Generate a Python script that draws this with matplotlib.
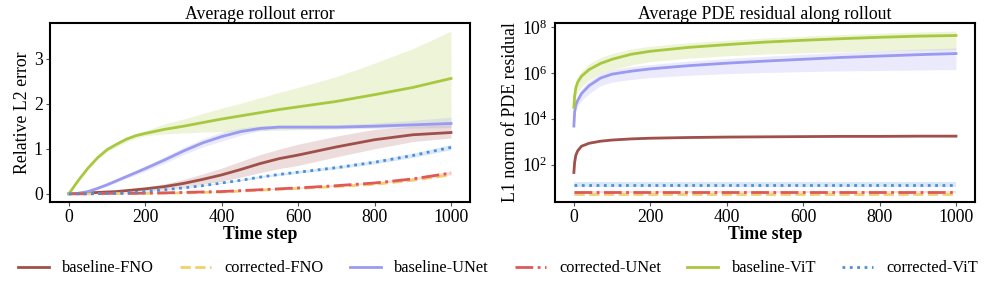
import matplotlib
matplotlib.use("Agg")
import matplotlib.pyplot as plt
import numpy as np

plt.rcParams["font.family"] = ["Liberation Serif", "DejaVu Serif"]

# ---- left panel: relative L2 error (mean, lower, upper) ----
T_ERR = [0, 25, 50, 75, 100, 125, 150, 175, 200, 250, 300, 350, 400, 450, 500,
         550, 600, 700, 800, 900, 1000]

vit_err = [0, 0.3, 0.57, 0.8, 0.98, 1.1, 1.21, 1.29, 1.34, 1.43, 1.5, 1.58, 1.66,
           1.73, 1.8, 1.87, 1.93, 2.05, 2.2, 2.36, 2.56]
vit_lo = [0, 0.29, 0.55, 0.77, 0.94, 1.05, 1.15, 1.23, 1.29, 1.33, 1.35, 1.37, 1.38,
          1.39, 1.4, 1.41, 1.42, 1.44, 1.47, 1.5, 1.52]
vit_hi = [0, 0.31, 0.59, 0.83, 1.02, 1.15, 1.26, 1.34, 1.4, 1.55, 1.66, 1.78, 1.9,
          2.01, 2.13, 2.25, 2.36, 2.6, 2.9, 3.22, 3.61]

unet_err = [0, 0.01, 0.05, 0.12, 0.2, 0.29, 0.38, 0.47, 0.56, 0.75, 0.95, 1.13, 1.27,
            1.38, 1.45, 1.48, 1.48, 1.48, 1.5, 1.53, 1.56]
unet_lo = [0, 0.01, 0.04, 0.1, 0.17, 0.25, 0.34, 0.42, 0.5, 0.68, 0.87, 1.04, 1.17,
           1.3, 1.4, 1.44, 1.44, 1.44, 1.45, 1.46, 1.47]
unet_hi = [0, 0.01, 0.06, 0.14, 0.23, 0.33, 0.42, 0.52, 0.62, 0.82, 1.03, 1.22, 1.37,
           1.46, 1.51, 1.52, 1.52, 1.53, 1.57, 1.63, 1.7]

fno_err = [0, 0.01, 0.02, 0.03, 0.04, 0.05, 0.07, 0.09, 0.11, 0.16, 0.23, 0.32, 0.42,
           0.54, 0.67, 0.78, 0.86, 1.04, 1.2, 1.31, 1.36]
fno_lo = [0, 0.01, 0.01, 0.02, 0.03, 0.04, 0.05, 0.06, 0.07, 0.1, 0.15, 0.21, 0.28,
          0.37, 0.47, 0.56, 0.63, 0.82, 1.0, 1.16, 1.24]
fno_hi = [0, 0.01, 0.03, 0.04, 0.05, 0.07, 0.09, 0.12, 0.15, 0.22, 0.32, 0.44, 0.57,
          0.72, 0.87, 0.99, 1.1, 1.28, 1.43, 1.5, 1.53]

cvit_err = [0, 0, 0, 0.005, 0.01, 0.015, 0.02, 0.03, 0.05, 0.09, 0.13, 0.18, 0.24,
            0.3, 0.37, 0.43, 0.48, 0.58, 0.7, 0.85, 1.03]
cunet_err = [0, 0, 0, 0.005, 0.01, 0.01, 0.01, 0.01, 0.015, 0.02, 0.03, 0.04, 0.05,
             0.07, 0.09, 0.11, 0.13, 0.18, 0.24, 0.33, 0.46]
cfno_err = [0, 0, 0, 0, 0.005, 0.005, 0.01, 0.01, 0.01, 0.015, 0.02, 0.03, 0.04,
            0.06, 0.08, 0.1, 0.12, 0.16, 0.21, 0.3, 0.42]

# ---- right panel: L1 norm of PDE residual (log10 of mean, lower, upper) ----
T_RES = [0, 2, 5, 10, 20, 40, 70, 100, 150, 200, 300, 400, 500, 600, 700, 800, 900, 1000]

vit_res = [4.5, 5.0, 5.35, 5.6, 5.86, 6.15, 6.42, 6.6, 6.82, 6.95, 7.12, 7.24, 7.35,
           7.43, 7.5, 7.56, 7.61, 7.64]
vit_res_lo = [4.3, 4.7, 5.0, 5.2, 5.4, 5.7, 5.98, 6.15, 6.35, 6.5, 6.65, 6.75, 6.83,
              6.88, 6.93, 6.97, 7.0, 7.02]
vit_res_hi = [4.7, 5.25, 5.6, 5.85, 6.1, 6.4, 6.68, 6.85, 7.05, 7.17, 7.32, 7.43,
              7.53, 7.61, 7.68, 7.74, 7.79, 7.83]

unet_res = [3.68, 4.3, 4.6, 4.8, 5.1, 5.45, 5.78, 5.95, 6.08, 6.18, 6.32, 6.43, 6.52,
            6.6, 6.68, 6.74, 6.8, 6.85]
unet_res_lo = [3.6, 4.1, 4.35, 4.55, 4.8, 5.1, 5.45, 5.6, 5.72, 5.8, 5.9, 5.97, 6.02,
               6.06, 6.09, 6.11, 6.13, 6.15]
unet_res_hi = [3.75, 4.45, 4.78, 5.0, 5.3, 5.65, 5.98, 6.15, 6.28, 6.37, 6.52, 6.63,
               6.73, 6.82, 6.9, 6.97, 7.04, 7.1]

fno_res = [1.65, 2.1, 2.4, 2.6, 2.8, 2.93, 3.02, 3.07, 3.12, 3.15, 3.18, 3.2, 3.21,
           3.22, 3.23, 3.23, 3.24, 3.24]

cvit_res = [1.12] * len(T_RES)
cunet_res = [0.8] * len(T_RES)
cfno_res = [0.72] * len(T_RES)

C_FNO, C_CFNO = "#a0504b", "#f0d070"
C_UNET, C_CUNET = "#9a9af0", "#e05858"
C_VIT, C_CVIT = "#a8c840", "#4a90d9"
LW = 2.0
FS = 12.8

fig = plt.figure(figsize=(9.96, 2.84), dpi=100)
axL = fig.add_axes([0.050, 0.289, 0.422, 0.630])
axR = fig.add_axes([0.557, 0.289, 0.422, 0.630])

def band(ax, t, lo, hi, c, a=0.2):
    ax.fill_between(t, lo, hi, color=c, alpha=a, lw=0)

# left
band(axL, T_ERR, vit_lo, vit_hi, C_VIT)
band(axL, T_ERR, unet_lo, unet_hi, C_UNET)
band(axL, T_ERR, fno_lo, fno_hi, C_FNO)
band(axL, T_ERR, np.array(cvit_err) * 0.95, np.array(cvit_err) * 1.05 + 0.01, C_CVIT)
band(axL, T_ERR, np.array(cunet_err) * 0.92, np.array(cunet_err) * 1.08 + 0.01, C_CUNET)
axL.plot(T_ERR, fno_err, color=C_FNO, lw=LW, label="baseline-FNO")
axL.plot(T_ERR, cfno_err, color=C_CFNO, lw=LW, ls="--", label="corrected-FNO")
axL.plot(T_ERR, unet_err, color=C_UNET, lw=LW, label="baseline-UNet")
axL.plot(T_ERR, cunet_err, color=C_CUNET, lw=LW, ls="-.", label="corrected-UNet")
axL.plot(T_ERR, vit_err, color=C_VIT, lw=LW, label="baseline-ViT")
axL.plot(T_ERR, cvit_err, color=C_CVIT, lw=LW, ls=":", label="corrected-ViT")
axL.set_title("Average rollout error", fontsize=FS, pad=3)
axL.set_ylabel("Relative L2 error", fontsize=FS, labelpad=2)
axL.set_xlabel("Time step", fontsize=FS, fontweight="bold", labelpad=0)
axL.set_yticks([0, 1, 2, 3])

# right (log)
p = lambda v: 10 ** np.array(v)
band(axR, T_RES, p(vit_res_lo), p(vit_res_hi), C_VIT)
band(axR, T_RES, p(unet_res_lo), p(unet_res_hi), C_UNET)
band(axR, T_RES, p(np.array(fno_res) - 0.03), p(np.array(fno_res) + 0.03), C_FNO)
band(axR, T_RES, p(np.array(cvit_res) - 0.12), p(np.array(cvit_res) + 0.12), C_CVIT)
band(axR, T_RES, p(np.array(cunet_res) - 0.05), p(np.array(cunet_res) + 0.05), C_CUNET)
axR.plot(T_RES, p(fno_res), color=C_FNO, lw=LW)
axR.plot(T_RES, p(cfno_res), color=C_CFNO, lw=LW, ls="--")
axR.plot(T_RES, p(unet_res), color=C_UNET, lw=LW)
axR.plot(T_RES, p(cunet_res), color=C_CUNET, lw=LW, ls="-.")
axR.plot(T_RES, p(vit_res), color=C_VIT, lw=LW)
axR.plot(T_RES, p(cvit_res), color=C_CVIT, lw=LW, ls=":")
axR.set_yscale("log")
axR.set_yticks([1e2, 1e4, 1e6, 1e8])
axR.minorticks_off()
axR.set_title("Average PDE residual along rollout", fontsize=FS, pad=3)
axR.set_ylabel("L1 norm of PDE residual", fontsize=FS, labelpad=2)
axR.set_xlabel("Time step", fontsize=FS, fontweight="bold", labelpad=0)

for ax in (axL, axR):
    ax.set_xticks([0, 200, 400, 600, 800, 1000])
    ax.tick_params(labelsize=12.8, length=3, width=0.8, color="#555555", pad=2)
    for s in ax.spines.values():
        s.set_linewidth(1.5)

h, l = axL.get_legend_handles_labels()
fig.legend(h, l, loc="lower center", ncol=6, frameon=False, fontsize=11.8,
           bbox_to_anchor=(0.5, -0.025), handlelength=1.9, handletextpad=0.8,
           columnspacing=1.6)

fig.savefig("out.png", dpi=100)
